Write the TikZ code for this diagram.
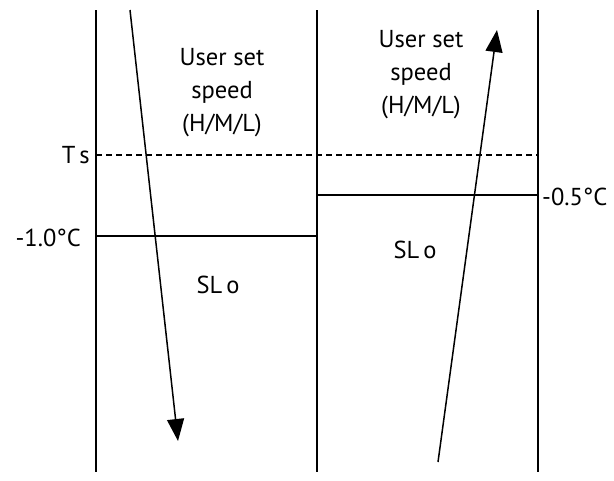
\documentclass[tikz,border=0pt]{standalone}
\usepackage{fontspec}
\setmainfont{PT Sans}
\usetikzlibrary{arrows.meta}
\begin{document}
\begin{tikzpicture}[x=1pt,y=-1pt,
  rail/.style={line width=1.4pt,black},
  level/.style={line width=1.3pt,black},
  trend/.style={line width=1.5pt,black,-{Triangle[length=22pt,width=17pt]}},
  lbl/.style={font=\fontsize{24.5}{33}\selectfont,inner sep=0pt},
  speed/.style={lbl,align=center}]
\useasboundingbox (0,0) rectangle (614,480);
% vertical rails
\coordinate (l1) at (96,10);  \coordinate (l2) at (96,472);
\coordinate (m1) at (317,10); \coordinate (m2) at (317,472);
\coordinate (r1) at (538,10); \coordinate (r2) at (538,472);
\draw[rail] (l1) -- (l2);
\draw[rail] (m1) -- (m2);
\draw[rail] (r1) -- (r2);
% thresholds
\coordinate (ts1) at (96,155);  \coordinate (ts2) at (538,155);
\draw[level,dashed,dash pattern=on 6pt off 4pt] (ts1) -- (ts2);
\coordinate (a1) at (96,236);  \coordinate (a2) at (317,236);
\draw[level] (a1) -- (a2);
\coordinate (b1) at (317,195); \coordinate (b2) at (538,195);
\draw[level] (b1) -- (b2);
% labels
\node[lbl,anchor=east] (ts) at (90,155) {T\,s};
\node[lbl,anchor=east] (t1) at (81,238) {-1.0°C};
\node[lbl,anchor=west] (t2) at (542,197) {-0.5°C};
\node[speed] (sp1) at (222,93) {User set\\speed\\(H/M/L)};
\node[speed] (sp2) at (421,75) {User set\\speed\\(H/M/L)};
\node[lbl] (slo1) at (218,285) {SL\,o};
\node[lbl] (slo2) at (415,250) {SL\,o};
% temperature trends
\coordinate (d1) at (130,10);  \coordinate (d2) at (178,441);
\draw[trend] (d1) -- (d2);
\coordinate (u1) at (438,462); \coordinate (u2) at (497,30);
\draw[trend] (u1) -- (u2);
\end{tikzpicture}
\end{document}
